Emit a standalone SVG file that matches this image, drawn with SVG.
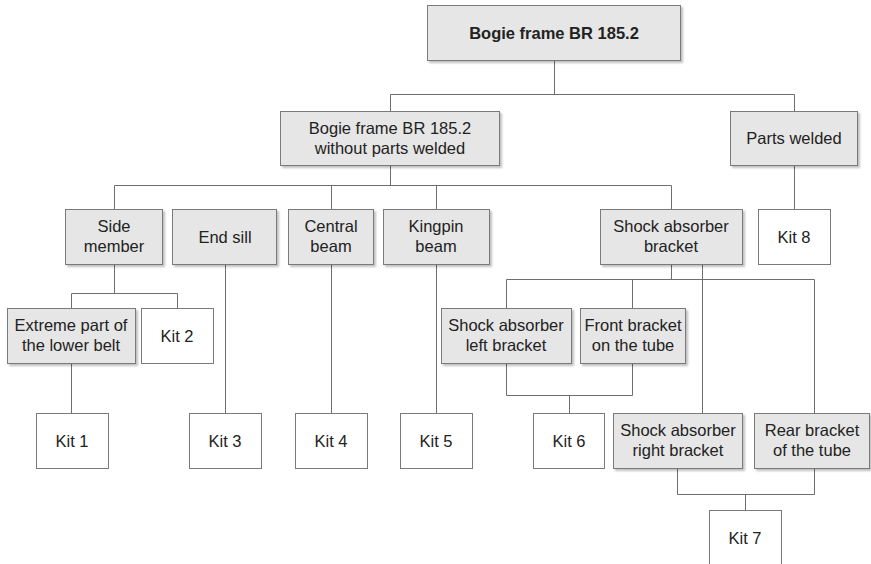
<svg xmlns="http://www.w3.org/2000/svg" width="871" height="564" viewBox="0 0 871 564">
  <style>
    .box { stroke: #7a7a7a; stroke-width: 1; }
    .part { fill: #e6e6e6; filter: url(#shadow); }
    .kit { fill: #ffffff; }
    .lbl { font-family: "Liberation Sans", Arial, sans-serif; font-size: 16.5px; fill: #222222; text-anchor: middle; }
    .bold { font-weight: bold; }
    .wire { fill: none; stroke: #6e6e6e; stroke-width: 1; }
  </style>
  <defs>
    <filter id="shadow" x="-10%" y="-10%" width="125%" height="135%">
      <feGaussianBlur in="SourceAlpha" stdDeviation="1.2"/>
      <feOffset dx="1.5" dy="1.5" result="blur"/>
      <feComponentTransfer><feFuncA type="linear" slope="0.25"/></feComponentTransfer>
      <feMerge><feMergeNode/><feMergeNode in="SourceGraphic"/></feMerge>
    </filter>
  </defs>
  <rect width="871" height="564" fill="#ffffff"/>

  <!-- connectors -->
  <g id="connectors" class="wire">
    <path d="M554.5 60V94.5M390.5 94.5H794.5M390.5 94.5V111M794.5 94.5V111"/>
    <path d="M390.5 165V185.5M114.5 185.5H671.5M114.5 185.5V209M331.5 185.5V209M436.5 185.5V209M671.5 185.5V209"/>
    <path d="M794.5 165V209"/>
    <path d="M114.5 264V293.5M71.5 293.5H177.5M71.5 293.5V308M177.5 293.5V308"/>
    <path d="M225.5 264V413M331.5 264V413M436.5 264V413M71.5 363V413"/>
    <path d="M671.5 264V279.5M506.5 279.5H814.5M506.5 279.5V308M632.5 279.5V308M814.5 279.5V413"/>
    <path d="M702.5 264V413"/>
    <path d="M506.5 363V395.5H632.5V363M569.5 395.5V413"/>
    <path d="M677.5 468V494.5H814.5V468M745.5 494.5V510"/>
  </g>

  <g id="bogie-frame">
    <rect class="box part" x="427.5" y="5.5" width="253" height="55"/>
    <text class="lbl bold" x="554" y="38.5">Bogie frame BR 185.2</text>
  </g>
  <g id="frame-without-welded">
    <rect class="box part" x="280.5" y="111.5" width="219" height="54"/>
    <text class="lbl" x="390" y="133.5">Bogie frame BR 185.2</text>
    <text class="lbl" x="390" y="154.2">without parts welded</text>
  </g>
  <g id="parts-welded">
    <rect class="box part" x="730.5" y="111.5" width="127" height="54"/>
    <text class="lbl" x="794" y="144">Parts welded</text>
  </g>

  <g id="side-member">
    <rect class="box part" x="65.5" y="209.5" width="97" height="55"/>
    <text class="lbl" x="114" y="231.5">Side</text>
    <text class="lbl" x="114" y="252.2">member</text>
  </g>
  <g id="end-sill">
    <rect class="box part" x="172.5" y="209.5" width="104" height="55"/>
    <text class="lbl" x="225" y="242.5">End sill</text>
  </g>
  <g id="central-beam">
    <rect class="box part" x="288.5" y="209.5" width="85" height="55"/>
    <text class="lbl" x="331" y="231.5">Central</text>
    <text class="lbl" x="331" y="252.2">beam</text>
  </g>
  <g id="kingpin-beam">
    <rect class="box part" x="383.5" y="209.5" width="106" height="55"/>
    <text class="lbl" x="436" y="231.5">Kingpin</text>
    <text class="lbl" x="436" y="252.2">beam</text>
  </g>
  <g id="shock-absorber-bracket">
    <rect class="box part" x="600.5" y="209.5" width="142" height="55"/>
    <text class="lbl" x="671" y="231.5">Shock absorber</text>
    <text class="lbl" x="671" y="252.2">bracket</text>
  </g>
  <g id="kit-8">
    <rect class="box kit" x="758.5" y="209.5" width="72" height="55"/>
    <text class="lbl" x="794" y="242.5">Kit 8</text>
  </g>

  <g id="extreme-part">
    <rect class="box part" x="7.5" y="308.5" width="128" height="55"/>
    <text class="lbl" x="71" y="330.5">Extreme part of</text>
    <text class="lbl" x="71" y="351.2">the lower belt</text>
  </g>
  <g id="kit-2">
    <rect class="box kit" x="141.5" y="308.5" width="72" height="55"/>
    <text class="lbl" x="177" y="341.5">Kit 2</text>
  </g>
  <g id="left-bracket">
    <rect class="box part" x="441.5" y="308.5" width="130" height="55"/>
    <text class="lbl" x="506" y="330.5">Shock absorber</text>
    <text class="lbl" x="506" y="351.2">left bracket</text>
  </g>
  <g id="front-bracket">
    <rect class="box part" x="580.5" y="308.5" width="105" height="55"/>
    <text class="lbl" x="633" y="330.5">Front bracket</text>
    <text class="lbl" x="633" y="351.2">on the tube</text>
  </g>

  <g id="kit-1">
    <rect class="box kit" x="36.5" y="413.5" width="72" height="55"/>
    <text class="lbl" x="72" y="446.5">Kit 1</text>
  </g>
  <g id="kit-3">
    <rect class="box kit" x="189.5" y="413.5" width="72" height="55"/>
    <text class="lbl" x="225" y="446.5">Kit 3</text>
  </g>
  <g id="kit-4">
    <rect class="box kit" x="295.5" y="413.5" width="72" height="55"/>
    <text class="lbl" x="331" y="446.5">Kit 4</text>
  </g>
  <g id="kit-5">
    <rect class="box kit" x="400.5" y="413.5" width="72" height="55"/>
    <text class="lbl" x="436" y="446.5">Kit 5</text>
  </g>
  <g id="kit-6">
    <rect class="box kit" x="533.5" y="413.5" width="71" height="55"/>
    <text class="lbl" x="569" y="446.5">Kit 6</text>
  </g>
  <g id="right-bracket">
    <rect class="box part" x="613.5" y="413.5" width="129" height="55"/>
    <text class="lbl" x="678" y="435.5">Shock absorber</text>
    <text class="lbl" x="678" y="456.2">right bracket</text>
  </g>
  <g id="rear-bracket">
    <rect class="box part" x="754.5" y="413.5" width="115" height="55"/>
    <text class="lbl" x="812" y="435.5">Rear bracket</text>
    <text class="lbl" x="812" y="456.2">of the tube</text>
  </g>

  <g id="kit-7">
    <rect class="box kit" x="709.5" y="510.5" width="72" height="70"/>
    <text class="lbl" x="745" y="543.5">Kit 7</text>
  </g>
</svg>
